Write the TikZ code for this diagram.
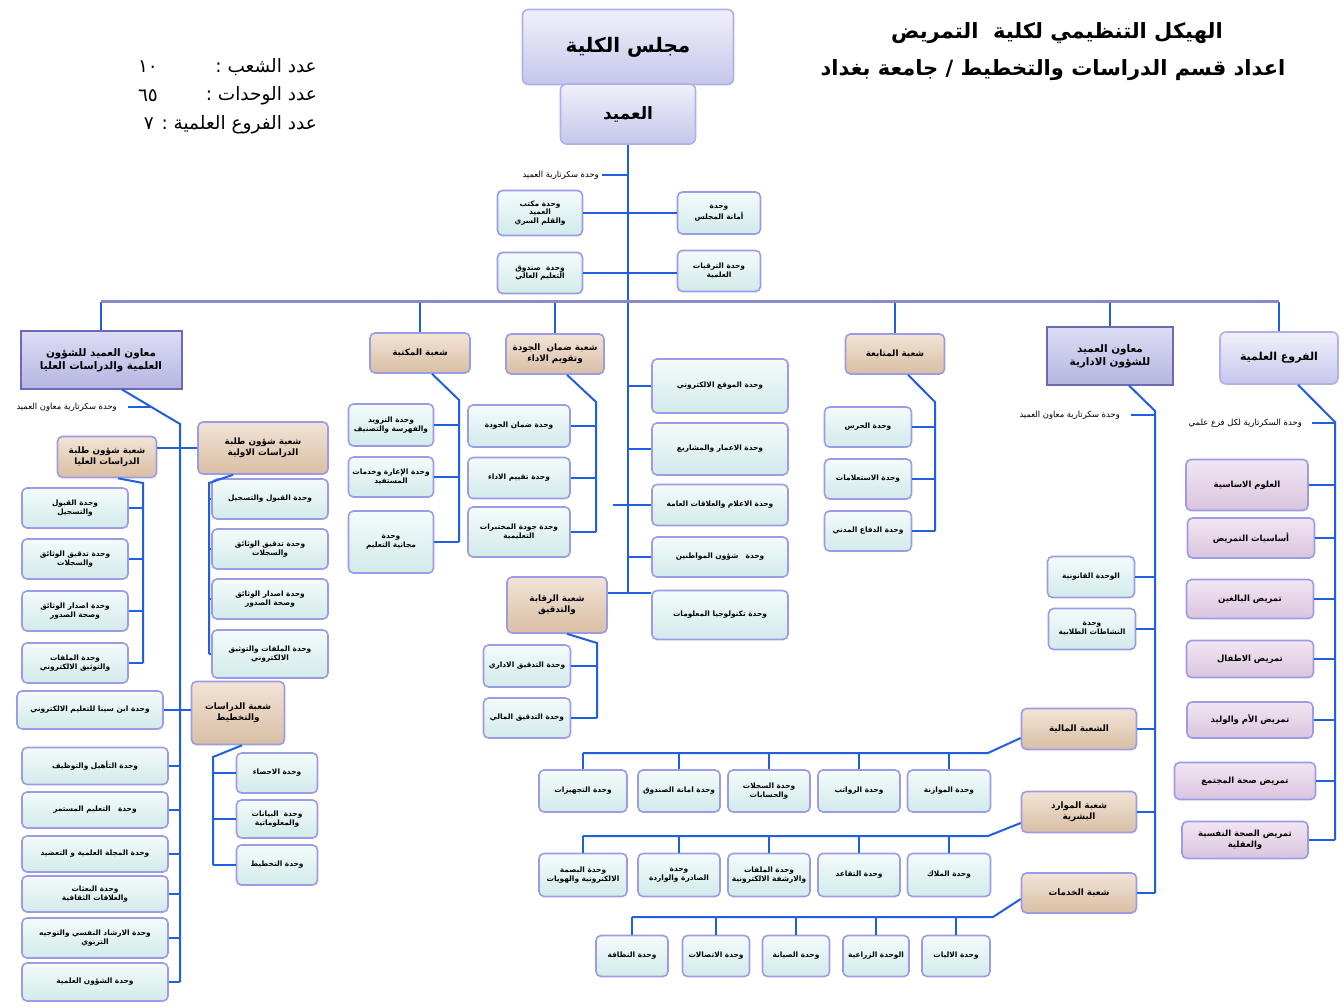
\documentclass[tikz,border=0pt]{standalone}
\usepackage{fontspec}
\newfontfamily\arabicfont[Script=Arabic]{DejaVu Sans}
\TeXXeTstate=1
\newcommand\ar[1]{\beginR #1\endR}
\definecolor{linkblue}{HTML}{1F5FE0}
\definecolor{barblue}{HTML}{8A8AC8}
\definecolor{boxline}{HTML}{9C9CE6}
\definecolor{unittop}{HTML}{F4FBFB}
\definecolor{unitbot}{HTML}{D2EAEB}
\definecolor{tantop}{HTML}{F2E4D6}
\definecolor{tanbot}{HTML}{D9BEA4}
\definecolor{muawinline}{HTML}{6A6AB8}
\definecolor{muawintop}{HTML}{DCDCF4}
\definecolor{muawinbot}{HTML}{B6B6E2}
\definecolor{counciltop}{HTML}{F0F0FA}
\definecolor{councilbot}{HTML}{C6C6EC}
\definecolor{branchtop}{HTML}{F2E6F2}
\definecolor{branchbot}{HTML}{DAC4DE}
\begin{document}
\begin{tikzpicture}
  [x=1pt,y=-1pt,
   every node/.style={align=center,inner sep=1pt,font=\arabicfont\bfseries\fontsize{7.4}{8.8}\selectfont},
   sz/.style 2 args={minimum width=#1pt,minimum height=#2pt},
   unit/.style={draw=boxline,line width=1.6pt,rounded corners=5pt,top color=unittop,bottom color=unitbot},
   shuba/.style={draw=boxline,line width=1.6pt,rounded corners=5pt,top color=tantop,bottom color=tanbot,
     font=\arabicfont\bfseries\fontsize{8.8}{11}\selectfont},
   muawin/.style={draw=muawinline,line width=2pt,top color=muawintop,bottom color=muawinbot,
     font=\arabicfont\bfseries\fontsize{10.4}{13}\selectfont},
   council/.style={draw=boxline!80,line width=1.6pt,rounded corners=6pt,top color=counciltop,bottom color=councilbot,
     font=\arabicfont\bfseries\fontsize{11}{13}\selectfont},
   branch/.style={draw=boxline,line width=1.6pt,rounded corners=5pt,top color=branchtop,bottom color=branchbot,
     font=\arabicfont\bfseries\fontsize{8.5}{10.5}\selectfont},
   note/.style={anchor=east,font=\arabicfont\fontsize{8.4}{10}\selectfont},
   count/.style={font=\arabicfont\fontsize{18.5}{22}\selectfont},
   heading/.style={font=\arabicfont\bfseries\fontsize{21}{25}\selectfont},
   link/.style={draw=linkblue,line width=2pt},
   bar/.style={draw=barblue,line width=3pt}]
  \path[fill=white,use as bounding box] (0,0) rectangle (1344,1008);

  % top
  \node[council,sz={211}{75},font=\arabicfont\bfseries\fontsize{20}{24}\selectfont] (majlis) at (628,47) {\ar{مجلس الكلية}};
  \node[council,sz={135}{60},font=\arabicfont\bfseries\fontsize{17}{20}\selectfont] (amid) at (628,114) {\ar{العميد}};
  \node[heading] (title1) at (1057,33) {\ar{الهيكل التنظيمي لكلية\ \ التمريض}};
  \node[heading] (title2) at (1053,70) {\ar{اعداد قسم الدراسات والتخطيط / جامعة بغداد}};
  \node[count,anchor=east] (cntShuab) at (318,67) {\ar{عدد الشعب :}};
  \node[count] (numShuab) at (148,67) {\ar{١٠}};
  \node[count,anchor=east] (cntWahdat) at (318,96) {\ar{عدد الوحدات :}};
  \node[count] (numWahdat) at (148,96) {\ar{٦٥}};
  \node[count,anchor=east] (cntFuru) at (318,125) {\ar{عدد الفروع العلمية : ٧}};

  \node[note] (secAmid) at (600,175) {\ar{وحدة سكرتارية العميد}};
  \node[unit,sz={85}{45}] (maktab) at (540,213) {\ar{وحدة مكتب}\\\ar{العميد}\\\ar{والقلم السري}};
  \node[unit,sz={83}{42}] (amana) at (719,213) {\ar{وحدة}\\\ar{أمانة المجلس}};
  \node[unit,sz={85}{41}] (sunduq) at (540,273) {\ar{وحدة\ \ صندوق}\\\ar{التعليم العالي}};
  \node[unit,sz={83}{41}] (tarqiya) at (719,271) {\ar{وحدة الترقيات}\\\ar{العلمية}};

  % second row
  \node[muawin,sz={161}{57}] (muawinI) at (101,360) {\ar{معاون العميد للشؤون}\\\ar{العلمية والدراسات العليا}};
  \node[shuba,sz={100}{40}] (maktaba) at (420,353) {\ar{شعبة المكتبة}};
  \node[shuba,sz={98}{40}] (jawda) at (555,354) {\ar{شعبة ضمان\ \ الجودة}\\\ar{وتقويم الاداء}};
  \node[shuba,sz={99}{40}] (mutabaa) at (895,354) {\ar{شعبة المتابعة}};
  \node[muawin,sz={126}{57}] (muawinD) at (1110,356) {\ar{معاون العميد}\\\ar{للشؤون الادارية}};
  \node[council,sz={118}{52}] (furu) at (1279,358) {\ar{الفروع العلمية}};
  \node[note] (secI) at (118,407) {\ar{وحدة سكرتارية معاون العميد}};
  \node[note] (secD) at (1121,415) {\ar{وحدة سكرتارية معاون العميد}};
  \node[note] (secF) at (1303,423) {\ar{وحدة السكرتارية لكل فرع علمي}};

  % scientific deputy
  \node[shuba,sz={99}{41}] (shuunU) at (107,457) {\ar{شعبة شؤون طلبة}\\\ar{الدراسات العليا}};
  \node[shuba,sz={130}{52}] (shuunA) at (263,448) {\ar{شعبة شؤون طلبة}\\\ar{الدراسات الاولية}};
  \node[unit,sz={106}{40}] (uQabul) at (75,508) {\ar{وحدة القبول}\\\ar{والتسجيل}};
  \node[unit,sz={106}{40}] (uTadqiq) at (75,559) {\ar{وحدة تدقيق الوثائق}\\\ar{والسجلات}};
  \node[unit,sz={106}{40}] (uIsdar) at (75,611) {\ar{وحدة اصدار الوثائق}\\\ar{وصحة الصدور}};
  \node[unit,sz={106}{40}] (uMalaf) at (75,663) {\ar{وحدة الملفات}\\\ar{والتوثيق الالكتروني}};
  \node[unit,sz={116}{40}] (aQabul) at (270,499) {\ar{وحدة القبول والتسجيل}};
  \node[unit,sz={116}{40}] (aTadqiq) at (270,549) {\ar{وحدة تدقيق الوثائق}\\\ar{والسجلات}};
  \node[unit,sz={116}{40}] (aIsdar) at (270,599) {\ar{وحدة اصدار الوثائق}\\\ar{وصحة الصدور}};
  \node[unit,sz={116}{48}] (aMalaf) at (270,654) {\ar{وحدة الملفات والتوثيق}\\\ar{الالكتروني}};
  \node[unit,sz={146}{38}] (ibnSina) at (90,710) {\ar{وحدة ابن سينا للتعليم الالكتروني}};
  \node[shuba,sz={93}{63}] (dirasat) at (238,713) {\ar{شعبة الدراسات}\\\ar{والتخطيط}};
  \node[unit,sz={81}{40}] (dIhsa) at (277,773) {\ar{وحدة الاحصاء}};
  \node[unit,sz={81}{38}] (dBayanat) at (277,819) {\ar{وحدة\ \ البيانات}\\\ar{والمعلوماتية}};
  \node[unit,sz={81}{40}] (dTakhtit) at (277,865) {\ar{وحدة التخطيط}};
  \node[unit,sz={146}{37}] (lTahil) at (95,766) {\ar{وحدة التأهيل والتوظيف}};
  \node[unit,sz={146}{36}] (lMustamir) at (95,810) {\ar{وحدة\quad التعليم المستمر}};
  \node[unit,sz={146}{36}] (lMajalla) at (95,854) {\ar{وحدة المجلة العلمية و التعضيد}};
  \node[unit,sz={146}{36}] (lBathat) at (95,894) {\ar{وحدة البعثات}\\\ar{والعلاقات الثقافية}};
  \node[unit,sz={146}{40}] (lIrshad) at (95,938) {\ar{وحدة الارشاد النفسي والتوجيه}\\\ar{التربوي}};
  \node[unit,sz={146}{38}] (lShuun) at (95,982) {\ar{وحدة الشؤون العلمية}};

  % library and quality
  \node[unit,sz={85}{42}] (mTazwid) at (391,425) {\ar{وحدة التزويد}\\\ar{والفهرسة والتصنيف}};
  \node[unit,sz={85}{40}] (mIara) at (391,477) {\ar{وحدة الإعارة وخدمات}\\\ar{المستفيد}};
  \node[unit,sz={85}{62}] (mMajjan) at (391,542) {\ar{وحدة}\\\ar{مجانية التعليم}};
  \node[unit,sz={102}{42}] (jDhaman) at (519,426) {\ar{وحدة ضمان الجودة}};
  \node[unit,sz={102}{41}] (jTaqyim) at (519,478) {\ar{وحدة تقييم الاداء}};
  \node[unit,sz={102}{50}] (jMukhtabar) at (519,532) {\ar{وحدة جودة المختبرات}\\\ar{التعليمية}};

  % centre units
  \node[unit,sz={136}{54}] (cMawqi) at (720,386) {\ar{وحدة الموقع الالكتروني}};
  \node[unit,sz={136}{52}] (cIamar) at (720,449) {\ar{وحدة الاعمار والمشاريع}};
  \node[unit,sz={136}{41}] (cIlam) at (720,505) {\ar{وحدة الاعلام والعلاقات العامة}};
  \node[unit,sz={136}{40}] (cMuwatin) at (720,557) {\ar{وحدة\quad شؤون المواطنين}};
  \node[unit,sz={136}{49}] (cTakno) at (720,615) {\ar{وحدة تكنولوجيا المعلومات}};
  \node[shuba,sz={100}{56}] (riqaba) at (557,605) {\ar{شعبة الرقابة}\\\ar{والتدقيق}};
  \node[unit,sz={87}{42}] (rIdari) at (527,666) {\ar{وحدة التدقيق الاداري}};
  \node[unit,sz={87}{40}] (rMali) at (527,718) {\ar{وحدة التدقيق المالي}};

  % follow-up
  \node[unit,sz={87}{40}] (tHaras) at (868,427) {\ar{وحدة الحرس}};
  \node[unit,sz={87}{40}] (tIstilam) at (868,479) {\ar{وحدة الاستعلامات}};
  \node[unit,sz={87}{40}] (tDifa) at (868,531) {\ar{وحدة الدفاع المدني}};

  % administrative deputy
  \node[unit,sz={87}{41}] (dQanun) at (1091,577) {\ar{الوحدة القانونية}};
  \node[unit,sz={87}{41}] (dNashat) at (1092,629) {\ar{وحدة}\\\ar{النشاطات الطلابية}};
  \node[shuba,sz={115}{41}] (maliya) at (1079,729) {\ar{الشعبة المالية}};
  \node[shuba,sz={115}{41}] (mawarid) at (1079,812) {\ar{شعبة الموارد}\\\ar{البشرية}};
  \node[shuba,sz={115}{40}] (khadamat) at (1079,893) {\ar{شعبة الخدمات}};
  \node[unit,sz={88}{42}] (fTajhiz) at (583,791) {\ar{وحدة التجهيزات}};
  \node[unit,sz={82}{42}] (fAmana) at (679,791) {\ar{وحدة امانة الصندوق}};
  \node[unit,sz={82}{42}] (fSijill) at (769,791) {\ar{وحدة السجلات}\\\ar{والحسابات}};
  \node[unit,sz={82}{42}] (fRawatib) at (859,791) {\ar{وحدة الرواتب}};
  \node[unit,sz={83}{42}] (fMuwazana) at (949,791) {\ar{وحدة الموازنة}};
  \node[unit,sz={88}{43}] (hBasma) at (583,875) {\ar{وحدة البصمة}\\\ar{الالكترونية والهويات}};
  \node[unit,sz={82}{43}] (hSadira) at (679,875) {\ar{وحدة}\\\ar{الصادرة والواردة}};
  \node[unit,sz={82}{43}] (hMalaf) at (769,875) {\ar{وحدة الملفات}\\\ar{والارشفة الالكترونية}};
  \node[unit,sz={82}{43}] (hTaqaud) at (859,875) {\ar{وحدة التقاعد}};
  \node[unit,sz={83}{43}] (hMilak) at (949,875) {\ar{وحدة الملاك}};
  \node[unit,sz={72}{41}] (sNazafa) at (632,956) {\ar{وحدة النظافة}};
  \node[unit,sz={67}{41}] (sIttisal) at (716,956) {\ar{وحدة الاتصالات}};
  \node[unit,sz={67}{41}] (sSiyana) at (796,956) {\ar{وحدة الصيانة}};
  \node[unit,sz={66}{41}] (sZiraa) at (876,956) {\ar{الوحدة الزراعية}};
  \node[unit,sz={68}{41}] (sAliyat) at (956,956) {\ar{وحدة الاليات}};

  % scientific branches
  \node[branch,sz={122}{51}] (bAsasiya) at (1247,485) {\ar{العلوم الاساسية}};
  \node[branch,sz={127}{40}] (bTamrid) at (1251,538) {\ar{أساسيات التمريض}};
  \node[branch,sz={127}{39}] (bBaligh) at (1250,599) {\ar{تمريض البالغين}};
  \node[branch,sz={127}{37}] (bAtfal) at (1250,659) {\ar{تمريض الاطفال}};
  \node[branch,sz={126}{36}] (bUmm) at (1250,720) {\ar{تمريض الأم والوليد}};
  \node[branch,sz={141}{37}] (bMujtama) at (1245,781) {\ar{تمريض صحة المجتمع}};
  \node[branch,sz={126}{37}] (bNafsi) at (1245,840) {\ar{تمريض الصحة النفسية}\\\ar{والعقلية}};

  % bend points
  \coordinate (bar) at (628,302);
  \coordinate (ilmiK) at (180,424);
  \coordinate (ulyaK) at (143,483);
  \coordinate (awwalK) at (209,483);
  \coordinate (dirK) at (213,757);
  \coordinate (maktK) at (459,400);
  \coordinate (jawdaK) at (596,402);
  \coordinate (riqK) at (597,643);
  \coordinate (mutK) at (935,402);
  \coordinate (idariK) at (1155,411);
  \coordinate (furuK) at (1335,422);
  \coordinate (malK) at (988,753);
  \coordinate (mawK) at (988,836);
  \coordinate (khadK) at (993,917);
  \coordinate (trunkEnd) at ([yshift=12pt]riqaba.east -| amid.south);

  % connectors
  \draw[link] (amid.south) -- (trunkEnd);
  \draw[link] ([xshift=2pt]secAmid.east) -- (secAmid.east -| amid.south);
  \path[link] (maktab.east) edge (maktab.east -| amana.west)
        (sunduq.east) edge (sunduq.east -| tarqiya.west);
  \foreach \n in {muawinI,maktaba,jawda,mutabaa,muawinD,furu}
    \draw[link] (\n.north |- bar) -- (\n.north);
  \draw[bar] (muawinI.north |- bar) -- (furu.north |- bar);

  \draw[link] ([xshift=21pt]muawinI.south) -- (ilmiK) -- (ilmiK |- lShuun.east);
  \draw[link] ([xshift=10pt]secI.east) -- +(23,0);
  \draw[link] (shuunU.east |- shuunA.west) -- (shuunA.west);
  \foreach \n in {lTahil,lMustamir,lMajalla,lBathat,lIrshad,lShuun}
    \draw[link] (ilmiK |- \n.east) -- (\n.east);
  \draw[link] (ibnSina.east) -- (ibnSina.east -| dirasat.west);
  \draw[link] ([xshift=11pt]shuunU.south) -- (ulyaK) -- (ulyaK |- uMalaf.east);
  \foreach \n in {uQabul,uTadqiq,uIsdar,uMalaf}
    \draw[link] (ulyaK |- \n.east) -- (\n.east);
  \draw[link] ([xshift=-30pt]shuunA.south) -- (awwalK) -- (awwalK |- aMalaf.west);
  \foreach \n in {aQabul,aTadqiq,aIsdar,aMalaf}
    \draw[link] (awwalK |- \n.west) -- (\n.west);
  \draw[link] ([xshift=4pt]dirasat.south) -- (dirK) -- (dirK |- dTakhtit.west);
  \foreach \n in {dIhsa,dBayanat,dTakhtit}
    \draw[link] (dirK |- \n.west) -- (\n.west);

  \draw[link] ([xshift=12pt]maktaba.south) -- (maktK) -- (maktK |- mMajjan.east);
  \foreach \n in {mTazwid,mIara,mMajjan}
    \draw[link] (maktK |- \n.east) -- (\n.east);
  \draw[link] ([xshift=12pt]jawda.south) -- (jawdaK) -- (jawdaK |- jMukhtabar.east);
  \foreach \n in {jDhaman,jTaqyim,jMukhtabar}
    \draw[link] (jawdaK |- \n.east) -- (\n.east);

  \foreach \n in {cMawqi,cIamar,cMuwatin}
    \draw[link] (amid.south |- \n.west) -- (\n.west);
  \draw[link] ([xshift=-15pt]amid.south |- cIlam.west) -- (cIlam.west);
  \draw[link] ([yshift=12pt]riqaba.east) -- (trunkEnd -| cTakno.west);
  \draw[link] ([xshift=10pt]riqaba.south) -- (riqK) -- (riqK |- rMali.east);
  \foreach \n in {rIdari,rMali}
    \draw[link] (riqK |- \n.east) -- (\n.east);

  \draw[link] ([xshift=13pt]mutabaa.south) -- (mutK) -- (mutK |- tDifa.east);
  \foreach \n in {tHaras,tIstilam,tDifa}
    \draw[link] (mutK |- \n.east) -- (\n.east);

  \draw[link] ([xshift=19pt]muawinD.south) -- (idariK) -- (idariK |- khadamat.east);
  \draw[link] ([xshift=10pt]secD.east) -- (idariK |- secD.east);
  \foreach \n in {dQanun,dNashat,maliya,mawarid,khadamat}
    \draw[link] (idariK |- \n.east) -- (\n.east);
  \draw[link] ([yshift=-9pt]maliya.west) -- (malK) -- (malK -| fTajhiz.north);
  \foreach \n in {fTajhiz,fAmana,fSijill,fRawatib,fMuwazana}
    \draw[link] (malK -| \n.north) -- (\n.north);
  \draw[link] ([yshift=-11pt]mawarid.west) -- (mawK) -- (mawK -| hBasma.north);
  \foreach \n in {hBasma,hSadira,hMalaf,hTaqaud,hMilak}
    \draw[link] (mawK -| \n.north) -- (\n.north);
  \draw[link] ([yshift=-6pt]khadamat.west) -- (khadK) -- (khadK -| sNazafa.north);
  \foreach \n in {sNazafa,sIttisal,sSiyana,sZiraa,sAliyat}
    \draw[link] (khadK -| \n.north) -- (\n.north);

  \draw[link] ([xshift=19pt]furu.south) -- (furuK) -- (furuK |- bNafsi.east);
  \draw[link] ([xshift=9pt]secF.east) -- (furuK |- secF.east);
  \foreach \n in {bAsasiya,bTamrid,bBaligh,bAtfal,bUmm,bMujtama,bNafsi}
    \draw[link] (furuK |- \n.east) -- (\n.east);
\end{tikzpicture}
\end{document}
